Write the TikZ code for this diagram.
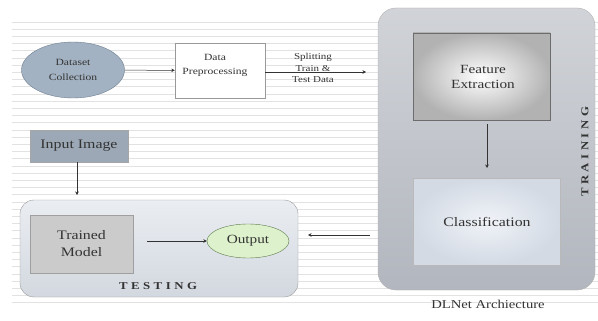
\documentclass[tikz,border=0pt]{standalone}
\usepackage{fontspec}
\setmainfont[FakeStretch=1.22]{Liberation Serif}
\usetikzlibrary{arrows.meta,shapes.geometric}
\definecolor{stripe}{HTML}{E2E2E2}
\definecolor{ellfill}{HTML}{A3B2C2}
\definecolor{ellline}{HTML}{6E7F90}
\definecolor{inpfill}{HTML}{9CA8B5}
\definecolor{trainfill}{HTML}{B2B6BE}
\definecolor{testfill}{HTML}{DCE2EA}
\definecolor{tmfill}{HTML}{CBCBCB}
\definecolor{outfill}{HTML}{DDF2CC}
\definecolor{outline}{HTML}{5F7A4C}
\definecolor{clsin}{HTML}{F0F3F8}
\definecolor{clsout}{HTML}{D3DAE4}
\definecolor{txtcol}{HTML}{333333}
\tikzset{
  conn/.style={-{Stealth[length=3.5pt,width=3.5pt]}, line width=0.5pt, draw=black!80},
  txt/.style={align=center, text=txtcol},
}
\begin{document}
\begin{tikzpicture}[x=1pt,y=-1pt]
\useasboundingbox (0,0) rectangle (598,321);
\fill[white] (0,0) rectangle (598,321);
% background stripes
\foreach \i in {0,...,39} {
  \draw[stripe, line width=0.7pt] (12,{22+7.2*\i}) -- (598,{22+7.2*\i});
}
% training container
\shade[top color=trainfill!60!white, bottom color=trainfill, draw=gray!60, rounded corners=18pt] (378,8) rectangle (595,290);
\node[rotate=90, font=\bfseries\fontsize{10.5}{12}\selectfont, text=txtcol] (trainlbl) at (585,152) {T\,\,R\,\,A\,\,I\,\,N\,\,I\,\,N\,\,G};
\node[font=\fontsize{12}{14}\selectfont, text=txtcol] (dlnet) at (488,304) {DLNet Archiecture};
% feature extraction
\shade[inner color=white, outer color=gray!60, draw=gray!85!black] (413,33) rectangle (550,120);
\node[txt, font=\fontsize{12.5}{15}\selectfont] (fe) at (483,77) {Feature\\Extraction};
\coordinate (feS) at (487,124);
% classification
\shade[inner color=clsin, outer color=clsout, draw=gray!55] (413,178) rectangle (560,265);
\node[txt, font=\fontsize{13}{15}\selectfont] (cls) at (487,222) {Classification};
\coordinate (clsN) at (487,168);
\draw[conn] (feS) -- (clsN);
% dataset
\node[ellipse, fill=ellfill, draw=ellline, minimum width=103pt, minimum height=56pt, txt, font=\fontsize{9.5}{15}\selectfont] (ds) at (73,70) {Dataset\\Collection};
% preprocessing
\node[draw=gray!80, fill=white, minimum width=90pt, minimum height=55pt] (pre) at (220,70.5) {};
\node[txt, font=\fontsize{9.5}{14}\selectfont] (pretxt) at (215,65) {Data\\Preprocessing};
\draw[conn] (ds) -- (pre);
\coordinate (spl) at (366,72);
\draw[conn] (pre.east |- spl) -- (spl);
\node[txt, font=\fontsize{9}{11.5}\selectfont] (spltxt) at (313,68) {Splitting\\Train \&\\Test Data};
% input image
\node[fill=inpfill, draw=gray!70, minimum width=98pt, minimum height=32pt, font=\fontsize{13}{15}\selectfont, text=txtcol] (inp) at (79,146) {Input Image};
% testing container
\shade[top color=testfill!60!white, bottom color=testfill!90!gray, draw=gray!80, rounded corners=14pt] (20,200) rectangle (298,297);
\coordinate (testN) at (77,195);
\draw[conn] (inp.south -| testN) -- (testN);
\node[fill=tmfill, draw=gray!75, minimum width=103pt, minimum height=58pt, txt, font=\fontsize{13}{17}\selectfont] (tm) at (81.5,244) {Trained\\Model};
\node[ellipse, fill=outfill, draw=outline, minimum width=82pt, minimum height=34pt, font=\fontsize{12.5}{14}\selectfont, text=txtcol] (out) at (248,241) {Output};
\coordinate (tmE) at (147,241);
\draw[conn] (tmE) -- (out);
\node[font=\bfseries\fontsize{10.5}{12}\selectfont, text=txtcol] (testlbl) at (158,286) {T\,\,E\,\,S\,\,T\,\,I\,\,N\,\,G};
\coordinate (fromTrain) at (370,235);
\coordinate (toTest) at (308,235);
\draw[conn] (fromTrain) -- (toTest);
\end{tikzpicture}
\end{document}
